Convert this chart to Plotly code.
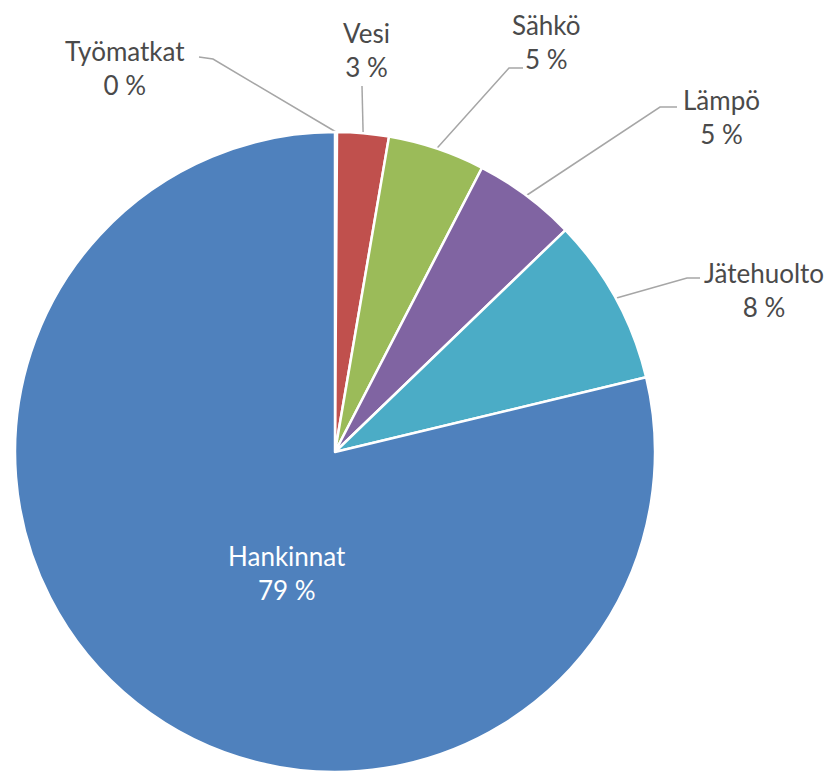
import math
import plotly.graph_objects as go

# ---- data ----
labels = ["Työmatkat", "Vesi", "Sähkö", "Lämpö", "Jätehuolto", "Hankinnat"]
values = [0.1, 2.6, 4.9, 5.2, 8.45, 78.75]
colors = ["#F79646", "#C0504D", "#9BBB59", "#8064A2", "#4BACC6", "#4F81BD"]

# ---- layout constants (pixels) ----
W, H = 830, 774
CX, CY, R = 335, 452, 320
FONT = "Lato, 'Open Sans', sans-serif"
TXT = "#4a4a4a"
LEAD = "#a6a6a6"

# label placement (text centre) and leader path near the label (elbow, end)
label_pos = {
    "Työmatkat": (125, 68),
    "Vesi": (366, 50),
    "Sähkö": (546, 42),
    "Lämpö": (721, 117),
    "Jätehuolto": (764, 290),
    "Hankinnat": (287, 573),
}
leader_tail = {
    "Työmatkat": [(213, 59), (199, 57)],
    "Vesi": [(362, 86)],
    "Sähkö": [(509, 68), (523, 68)],
    "Lämpö": [(660, 107), (677, 107)],
    "Jätehuolto": [(687, 278), (700, 278)],
}
inside = {"Hankinnat"}

fig = go.Figure()

fig.add_trace(go.Pie(
    labels=labels, values=values, sort=False, direction="clockwise", rotation=0,
    marker=dict(colors=colors, line=dict(color="white", width=2.5)),
    textinfo="none", hoverinfo="label+percent", showlegend=False,
    domain=dict(x=[(CX - R) / W, (CX + R) / W],
                y=[(H - CY - R) / H, (H - CY + R) / H]),
))

total = sum(values)
cum = 0.0
annotations = []
for lab, v in zip(labels, values):
    mid = (cum + v / 2) / total * 2 * math.pi
    cum += v
    pct = f"{round(v / total * 100)} %"
    tx, ty = label_pos[lab]
    if lab in inside:
        color = "white"
    else:
        color = TXT
        ex, ey = CX + R * math.sin(mid), CY - R * math.cos(mid)
        pts = [(ex, ey)] + leader_tail[lab]
        fig.add_trace(go.Scatter(
            x=[p[0] for p in pts], y=[p[1] for p in pts], mode="lines",
            line=dict(color=LEAD, width=1.5), hoverinfo="skip", showlegend=False,
            xaxis="x", yaxis="y"))
    annotations.append(dict(
        x=tx, y=ty, xref="x", yref="y", text=f"{lab}<br>{pct}", showarrow=False,
        font=dict(family=FONT, size=26, color=color), xanchor="center", yanchor="middle"))

fig.update_layout(
    width=W, height=H, margin=dict(l=0, r=0, t=0, b=0),
    paper_bgcolor="white", plot_bgcolor="rgba(0,0,0,0)",
    xaxis=dict(range=[0, W], visible=False, fixedrange=True, domain=[0, 1]),
    yaxis=dict(range=[H, 0], visible=False, fixedrange=True, domain=[0, 1]),
    annotations=annotations,
)

fig.write_html("out.html")
